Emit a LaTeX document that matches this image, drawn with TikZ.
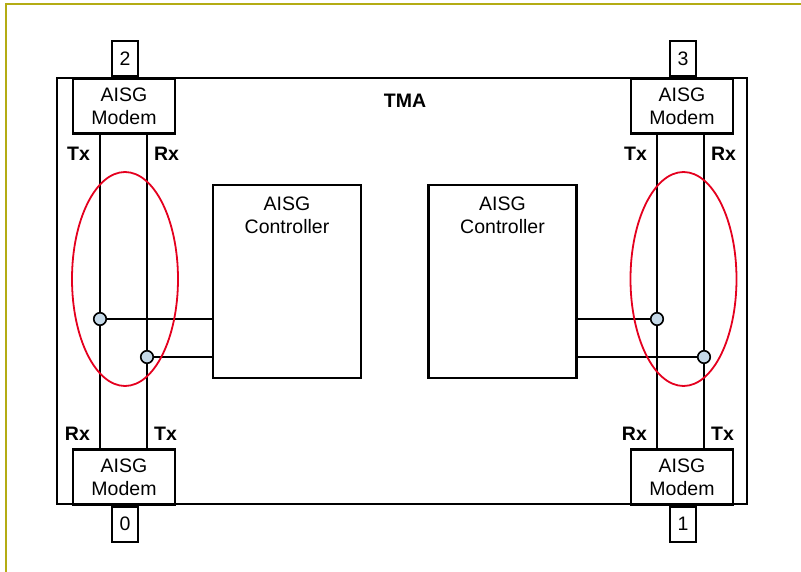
\documentclass[tikz,border=0pt]{standalone}
\usepackage{fontspec}
\setmainfont{Liberation Sans}
\usetikzlibrary{
  calc, % For coordinate calculations
  positioning % For relative placement
}

\definecolor{framecol}{RGB}{180,172,20}
\definecolor{ringred}{RGB}{228,0,30}
\definecolor{dotblue}{RGB}{197,217,232}

\begin{document}
\begin{tikzpicture}[
      x=1pt, y=-1pt, % pixel like units, y downwards
      line width=2.2pt, % Default line thickness
      every node/.style={font=\fontsize{19.5}{23}\selectfont},
      modem/.style={draw, fill=white, minimum width=102pt, minimum height=55pt,
        inner sep=0pt, align=center}, % AISG modem boxes
      port/.style={draw, fill=white, minimum width=26pt, minimum height=35pt,
        inner sep=0pt}, % numbered ports
      ctrl/.style={draw, minimum width=148pt, minimum height=193pt, inner sep=0pt}, % controllers
      wire/.style={line width=2.2pt},
      junction/.style={circle, draw, fill=dotblue, line width=1.6pt,
        minimum size=12.5pt, inner sep=0pt}, % joints
      ring/.style={ringred, line width=1.8pt}, % red ellipses
      lbl/.style={font=\fontsize{19.5}{23}\selectfont\bfseries, inner sep=0pt},
    ]

    % size of the picture
    \useasboundingbox (0,0) rectangle (801,572);

    % outer frame (only top and left edge are visible)
    \draw[framecol, line width=1.5pt] (6,572) -- (6,4) -- (801,4);

    % TMA housing
    \draw (57,78) rectangle (747,504);
    \node[font=\fontsize{19.5}{23}\selectfont\bfseries] (tma) at (405,101) {TMA};

    % Modems and ports
    \node[modem] (m2) at (124,106) {AISG\\Modem};
    \node[modem] (m3) at (682,106) {AISG\\Modem};
    \node[modem] (m0) at (124,477) {AISG\\Modem};
    \node[modem] (m1) at (682,477) {AISG\\Modem};

    \node[port, above=0pt of m2.north, xshift=1pt] (p2) {2};
    \node[port, above=0pt of m3.north, xshift=1pt] (p3) {3};
    \node[port, below=0pt of m0.south, xshift=1pt] (p0) {0};
    \node[port, below=0pt of m1.south, xshift=1pt] (p1) {1};

    % Controllers
    \node[ctrl, label={[anchor=north, align=center, yshift=-9pt]north:AISG\\Controller}]
      (ctrlL) at (287,281.5) {};
    \node[ctrl, label={[anchor=north, align=center, yshift=-9pt]north:AISG\\Controller}]
      (ctrlR) at (502.5,281.5) {};

    % joints
    \coordinate (jL1) at (100,319);
    \coordinate (jL2) at (147,357);
    \coordinate (jR1) at (657,319);
    \coordinate (jR2) at (704,357);

    % Tx/Rx lines
    \draw[wire] (m2.south -| jL1) -- (m0.north -| jL1);
    \draw[wire] (m2.south -| jL2) -- (m0.north -| jL2);
    \draw[wire] (m3.south -| jR1) -- (m1.north -| jR1);
    \draw[wire] (m3.south -| jR2) -- (m1.north -| jR2);

    \draw[wire] (jL1) -- (jL1 -| ctrlL.west);
    \draw[wire] (jL2) -- (jL2 -| ctrlL.west);
    \draw[wire] (jR1) -- (jR1 -| ctrlR.east);
    \draw[wire] (jR2) -- (jR2 -| ctrlR.east);

    % red markings
    \draw[ring] (125,279) ellipse [x radius=53, y radius=107];
    \draw[ring] (683.5,279) ellipse [x radius=53, y radius=107];

    \foreach \j in {jL1,jL2,jR1,jR2}
      \node[junction] (n\j) at (\j) {};

    % labels
    \node[lbl, anchor=east] (txL) at ($(m2.south -| jL1)+(-9,19)$) {Tx};
    \node[lbl, anchor=west] (rxL) at ($(m2.south -| jL2)+(6,19)$) {Rx};
    \node[lbl, anchor=east] (rxLb) at ($(m0.north -| jL1)+(-9,-15)$) {Rx};
    \node[lbl, anchor=west] (txLb) at ($(m0.north -| jL2)+(6,-15)$) {Tx};

    \node[lbl, anchor=east] (txR) at ($(m3.south -| jR1)+(-9,19)$) {Tx};
    \node[lbl, anchor=west] (rxR) at ($(m3.south -| jR2)+(6,19)$) {Rx};
    \node[lbl, anchor=east] (rxRb) at ($(m1.north -| jR1)+(-9,-15)$) {Rx};
    \node[lbl, anchor=west] (txRb) at ($(m1.north -| jR2)+(6,-15)$) {Tx};

  \end{tikzpicture}
\end{document}
